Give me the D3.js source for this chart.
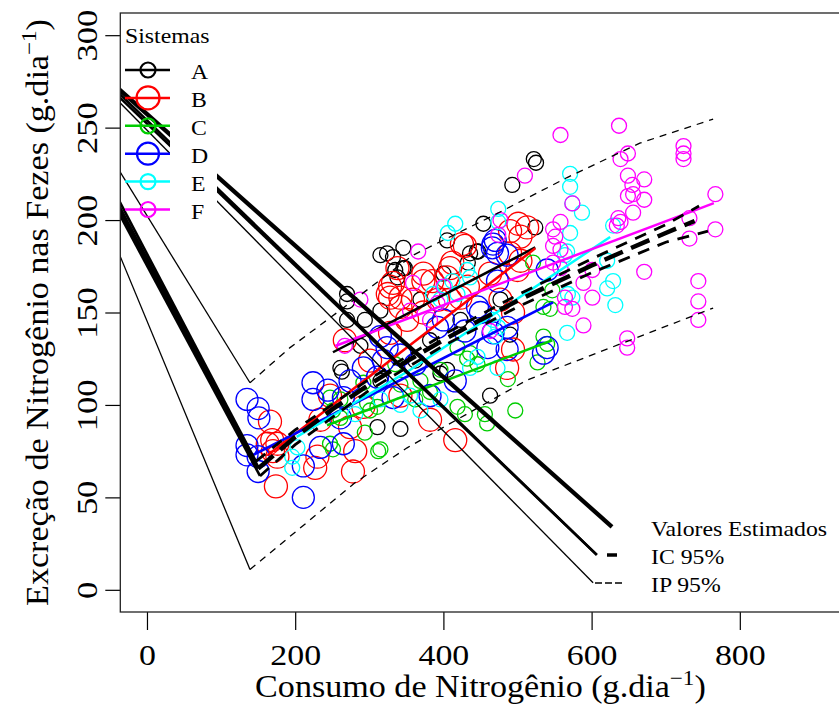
<!DOCTYPE html>
<html>
<head>
<meta charset="utf-8">
<script src="https://cdn.jsdelivr.net/npm/d3@7"></script>
<style>
body { margin: 0; background: #fff; }
text { font-family: "Liberation Serif", "Times New Roman", serif; fill: #000; }
</style>
</head>
<body>
<script>
// eixos
var xTicks = [0, 200, 400, 600, 800];
var yTicks = [0, 50, 100, 150, 200, 250, 300];

// sistemas e cores (paleta padrao do R)
var sistemas = ["A", "B", "C", "D", "E", "F"];
var cores = ["#000000", "#FF0000", "#00CD00", "#0000FF", "#00FFFF", "#FF00FF"];
var raios = [7.5, 11.5, 7.5, 11, 7.5, 7.5];

// observacoes [consumo, excrecao]
var pontosA = [[522,233],[525,231],[493,219],[454,198],[445,183],[433,177],[405,189],
    [400,171],[346,185],[332,180],[315,181],[346,174],[338,169],[270,160],[270,156],
    [270,146],[315,151],[261,120],[263,118],[311,88],[342,87],[524,196],[436,182],
    [447,183],[405,119],[396,117],[348,174],[335,173],[324,182],[294,146],[369,157],
    [382,135],[423,146],[477,157],[288,132],[362,124],[463,105],[490,138],[315,113]];
var pontosB = [[174,56],[169,81],[166,91],[163,79],[176,79],[170,75],[176,72],[227,66],
    [230,72],[281,75],[278,64],[274,88],[292,99],[338,174],[328,164],[328,158],[342,153],
    [373,171],[385,167],[409,174],[425,187],[359,157],[393,157],[409,157],[351,146],
    [328,139],[501,198],[513,196],[429,186],[412,177],[490,194],[504,191],[373,167],
    [332,166],[325,160],[405,169],[423,158],[433,164],[490,182],[504,178],[500,173],
    [463,171],[494,150],[477,157],[494,130],[486,120],[373,150],[342,158],[267,135],
    [301,124],[247,105],[234,92],[342,105],[382,92],[416,81]];
var pontosC = [[497,97],[456,95],[459,90],[429,95],[419,99],[315,76],[294,85],[247,104],
    [261,103],[251,97],[261,93],[297,101],[301,97],[247,79],[251,76],[292,112],[311,99],
    [312,75],[521,177],[547,162],[535,153],[544,152],[535,137],[540,133],[436,128],
    [432,125],[419,131],[446,122],[487,114],[527,123],[369,113],[382,107],[396,119],
    [342,111],[362,103],[335,122]];
var pontosD = [[135,103],[150,98],[151,93],[150,72],[135,78],[135,73],[150,64],[211,67],
    [211,50],[224,112],[244,108],[224,103],[234,77],[265,79],[261,93],[265,104],[292,120],
    [311,115],[319,124],[332,104],[315,137],[324,131],[467,187],[473,182],[392,142],
    [470,189],[466,185],[486,181],[473,167],[446,153],[450,150],[486,142],[467,139],
    [486,130],[460,131],[540,173],[540,131],[535,128],[400,146],[382,105],[362,122],
    [416,113],[274,113],[342,127],[429,140]];
var pontosE = [[571,225],[571,218],[574,209],[587,204],[474,206],[416,198],[406,193],
    [474,199],[571,193],[567,183],[564,181],[621,178],[629,197],[629,167],[621,163],
    [632,154],[568,160],[574,158],[567,139],[402,164],[412,167],[419,160],[467,146],
    [474,142],[470,137],[446,126],[436,120],[473,120],[386,160],[396,157],[432,173],
    [436,169],[196,72],[196,66],[203,77],[342,100],[369,97],[355,105],[396,103],
    [315,103],[281,95]];
var pontosF = [[724,240],[724,236],[724,233],[671,222],[671,211],[767,214],[732,201],
    [732,190],[767,195],[671,172],[744,167],[744,156],[744,146],[558,246],[637,251],
    [510,224],[639,233],[649,236],[649,224],[655,219],[649,213],[656,214],[656,204],
    [636,201],[639,199],[634,197],[574,209],[558,199],[548,195],[551,191],[548,186],
    [558,184],[366,183],[648,136],[648,131],[589,143],[601,158],[564,153],[574,152],
    [564,158],[589,166],[601,173],[548,177],[558,174],[359,166],[400,164],[392,155],
    [477,200],[474,192],[463,140],[355,151],[288,157],[267,132],[382,146]];

// retas ajustadas por sistema
var retaA = [[251,128.5],[524,185.2]];
var retaB = [[163,72.9],[524,184.7]];
var retaC = [[243,89],[547,135]];
var retaD = [[143,72.9],[548,155.5]];
var retaE = [[202,82.7],[355,118.9],[625,190.8]];
var retaF = [[254,131.9],[765,209.2]];

// curva geral e intervalos
var estimado = [[150,65.6],[200,82.6],[250,97.6],[300,111.1],[350,123.5],[400,135.1],
    [450,146],[500,156.3],[550,166],[600,175.4],[650,184.3],[700,193],[739,199.5]];
var icSup = [[147,69.5],[200,86.5],[300,114],[400,138],[500,159.5],[600,179],
    [700,197.5],[745,207.6]];
var icInf = [[152.5,61.6],[200,78.5],[300,108],[400,132],[500,153],[600,171.5],
    [700,188],[757,194]];
var ipSup = [[139,112],[193,131],[260,151],[359,181],[463,201.6],[567,223],
    [665,241.6],[764,254.6]];
var ipInf = [[139,11],[281,58],[351,76.8],[513,113.5],[764,152.4]];

// segmentos que ligam as curvas (como aparecem no grafico)
var ligaEst1 = [[-37.8,270.8],[627.5,34.1]];
var ligaIC1a = [[-37.8,268.6],[607,18.9]];
var ligaIC1b = [[-37.8,266.7],[607,18.9]];
var ligaIP1 = [[-37.8,264],[602,3.8]];
var ligaEst2 = [[-37.8,206.8],[150,65.6]];
var ligaIC2a = [[-37.8,210.6],[147,69.5]];
var ligaIC2b = [[-37.8,203.6],[152.5,61.6]];
var ligaIP2a = [[-37.8,227],[139,112]];
var ligaIP2b = [[-37.8,182],[139,11]];

var legendaCurvas = ["Valores Estimados", "IC 95%", "IP 95%"];

var pontos = [pontosA, pontosB, pontosC, pontosD, pontosE, pontosF];
var retas = [retaA, retaB, retaC, retaD, retaE, retaF];

var margin = {top: 13, left: 120.3},
    width = 720.3,
    height = 599;

var root = d3.select("body").append("svg")
    .attr("width", 839)
    .attr("height", 709);

var svg = root.append("g")
    .attr("transform", "translate(" + margin.left + "," + margin.top + ")");

var x = d3.scaleLinear().domain([-36, 936]).range([0, width]),
    y = d3.scaleLinear().domain([-12, 312]).range([height, 0]);

svg.append("defs").append("clipPath")
    .attr("id", "clip")
    .append("rect")
    .attr("width", width)
    .attr("height", height);

var linha = d3.line()
    .x(function(d){ return x(d[0]); })
    .y(function(d){ return y(d[1]); });

var plot = svg.append("g").attr("clip-path", "url(#clip)");

// pontos
pontos.forEach(function(lista, i){
    plot.append("g").selectAll("circle")
        .data(lista)
        .enter().append("circle")
        .attr("cx", function(d){ return x(d[0]); })
        .attr("cy", function(d){ return y(d[1]); })
        .attr("r", raios[i])
        .style("fill", "none")
        .style("stroke", cores[i])
        .style("stroke-width", 1.3);
});

// retas por sistema
retas.forEach(function(r, i){
    plot.append("path")
        .attr("d", linha(r))
        .style("fill", "none")
        .style("stroke", cores[i])
        .style("stroke-width", 2.5);
});

function curva(dados, largura, tracejado){
    plot.append("path")
        .attr("d", linha(dados))
        .style("fill", "none")
        .style("stroke", "#000")
        .style("stroke-width", largura)
        .style("stroke-dasharray", tracejado);
}

curva(ipSup, 1.3, "7,6");
curva(ipInf, 1.3, "7,6");
curva(icSup, 2.8, "12,9");
curva(icInf, 2.8, "12,9");
curva(estimado, 4.5, "20,9");

[ligaIP1, ligaIP2a, ligaIP2b].forEach(function(d){ curva(d, 1.3, null); });
[ligaIC1a, ligaIC1b, ligaIC2a, ligaIC2b].forEach(function(d){ curva(d, 2.6, null); });
[ligaEst1, ligaEst2].forEach(function(d){ curva(d, 4.3, null); });

// eixos
var gx = svg.append("g")
    .attr("transform", "translate(0," + height + ")")
    .call(d3.axisBottom(x).tickValues(xTicks).tickSize(18));
gx.select(".domain").remove();
gx.attr("font-family", null).attr("font-size", null);
gx.selectAll(".tick line").style("stroke-width", 1.2);
gx.selectAll(".tick text")
    .attr("y", 0).attr("dy", 0)
    .attr("transform", "translate(0,53) scale(1.13,1)")
    .style("font-size", "30px");

var gy = svg.append("g")
    .call(d3.axisLeft(y).tickValues(yTicks).tickSize(15));
gy.select(".domain").remove();
gy.attr("font-family", null).attr("font-size", null);
gy.selectAll(".tick line").style("stroke-width", 1.2);
gy.selectAll(".tick text")
    .attr("x", 0).attr("dy", 0)
    .attr("text-anchor", "middle")
    .attr("transform", "translate(-23,0) rotate(-90) scale(1.15,1)")
    .style("font-size", "30px");

// caixa
svg.append("rect")
    .attr("width", width)
    .attr("height", height)
    .style("fill", "none")
    .style("stroke", "#222")
    .style("stroke-width", 1.3);

// titulos
var tx = root.append("text")
    .attr("text-anchor", "middle")
    .attr("transform", "translate(" + (margin.left + width / 2) + ",697) scale(1.1,1)")
    .style("font-size", "31px");
tx.append("tspan").text("Consumo de Nitrogênio (g.dia");
tx.append("tspan").attr("dy", -12).style("font-size", "21px").text("\u22121");
tx.append("tspan").attr("dy", 12).text(")");

var ty = root.append("text")
    .attr("text-anchor", "middle")
    .attr("transform", "translate(48," + (margin.top + height / 2) + ") rotate(-90) scale(1.1,1)")
    .style("font-size", "31px");
ty.append("tspan").text("Excreção de Nitrogênio nas Fezes (g.dia");
ty.append("tspan").attr("dy", -12).style("font-size", "21px").text("\u22121");
ty.append("tspan").attr("dy", 12).text(")");

// legenda dos sistemas (fundo branco atras dos rotulos)
root.append("rect")
    .attr("x", 170).attr("y", 14)
    .attr("width", 47).attr("height", 211)
    .style("fill", "#fff");

root.append("text")
    .attr("transform", "translate(125,43) scale(1.08,1)")
    .style("font-size", "22px")
    .text("Sistemas");

sistemas.forEach(function(s, i){
    var yy = 70 + 27.9 * i;
    root.append("line")
        .attr("x1", 125).attr("x2", 170)
        .attr("y1", yy).attr("y2", yy)
        .style("stroke", cores[i])
        .style("stroke-width", 2.5);
    root.append("circle")
        .attr("cx", 148).attr("cy", yy)
        .attr("r", raios[i])
        .style("fill", "none")
        .style("stroke", cores[i])
        .style("stroke-width", 2.2);
    root.append("text")
        .attr("transform", "translate(191," + (yy + 9) + ") scale(1.08,1)")
        .style("font-size", "22px")
        .text(s);
});

// legenda das curvas
legendaCurvas.forEach(function(t, i){
    root.append("text")
        .attr("transform", "translate(651," + (536 + 28 * i) + ") scale(1.08,1)")
        .style("font-size", "22px")
        .text(t);
});
root.append("line")
    .attr("x1", 607).attr("x2", 617).attr("y1", 555).attr("y2", 555)
    .style("stroke", "#000").style("stroke-width", 3.5);
root.append("line")
    .attr("x1", 595).attr("x2", 622).attr("y1", 583).attr("y2", 583)
    .style("stroke", "#000").style("stroke-width", 1.3)
    .style("stroke-dasharray", "7,3");
</script>
</body>
</html>
